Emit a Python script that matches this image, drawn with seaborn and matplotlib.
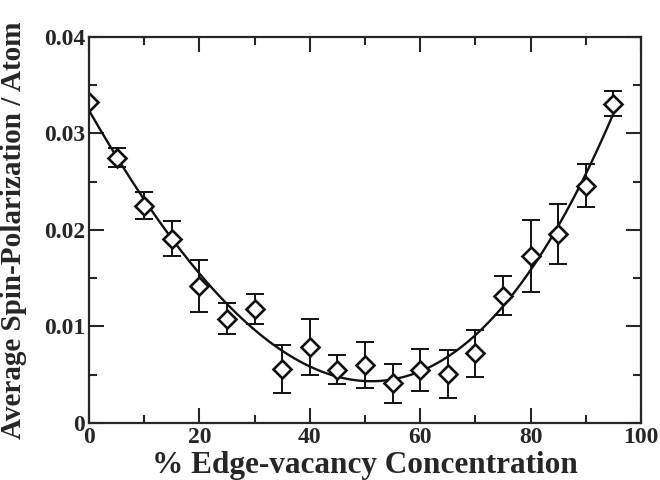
import numpy as np
import pandas as pd
import matplotlib
matplotlib.use('Agg')
import matplotlib.pyplot as plt
import seaborn as sns
from matplotlib.ticker import MultipleLocator

# Dữ liệu
conc = [0, 5, 10, 15, 20, 25, 30, 35, 40, 45, 50, 55, 60, 65, 70, 75, 80, 85, 90, 95]
spin = [0.0333, 0.0275, 0.0225, 0.0191, 0.0142, 0.0108, 0.0118, 0.0056, 0.0079, 0.0055,
        0.0060, 0.0041, 0.0055, 0.0051, 0.0072, 0.0132, 0.0173, 0.0196, 0.0246, 0.0331]
err = [0.0, 0.0010, 0.0014, 0.0018, 0.0027, 0.0016, 0.0016, 0.0025, 0.0029, 0.0015,
       0.0024, 0.0020, 0.0022, 0.0025, 0.0024, 0.0020, 0.0037, 0.0031, 0.0022, 0.0013]

df = pd.DataFrame({'conc': conc, 'spin': spin, 'err': err})

# Đường fit đa thức
coef = np.polyfit(df['conc'], df['spin'], 3)
xs = np.linspace(0, 95, 200)
fit_df = pd.DataFrame({'conc': xs, 'spin': np.polyval(coef, xs)})

sns.set_style('ticks')
plt.rcParams['font.family'] = ['Liberation Serif', 'DejaVu Serif']
plt.rcParams['font.weight'] = 'bold'

fig = plt.figure(figsize=(6.6, 4.8), dpi=100)
ax = fig.add_axes([0.135, 0.119, 0.836, 0.804])

sns.lineplot(data=fit_df, x='conc', y='spin', color='#111111', linewidth=1.7, ax=ax)
ax.errorbar(df['conc'], df['spin'], yerr=df['err'], fmt='none', ecolor='#111111',
            elinewidth=1.4, capsize=6.5, capthick=1.4)
ax.plot(df['conc'], df['spin'], linestyle='none', marker='D', markersize=9.5,
        markerfacecolor='white', markeredgecolor='#111111', markeredgewidth=1.9)

ax.set_xlim(0, 100)
ax.set_ylim(0, 0.04)
ax.xaxis.set_minor_locator(MultipleLocator(10))
ax.yaxis.set_minor_locator(MultipleLocator(0.005))
ax.set_xticks([0, 20, 40, 60, 80, 100])
ax.set_xticklabels(['0', '20', '40', '60', '80', '100'])
ax.set_yticks([0, 0.01, 0.02, 0.03, 0.04])
ax.set_yticklabels(['0', '0.01', '0.02', '0.03', '0.04'])
ax.tick_params(which='both', direction='in', top=True, right=True, width=1.5,
               labelsize=17, pad=3)
ax.tick_params(which='major', length=11)
ax.tick_params(which='minor', length=6)
for s in ax.spines.values():
    s.set_linewidth(1.6)

ax.set_xlabel('% Edge-vacancy Concentration', fontsize=22.5, fontweight='bold', labelpad=2)
ax.set_ylabel('Average Spin-Polarization / Atom', fontsize=21, fontweight='bold')
ax.yaxis.set_label_coords(-0.112, 0.5)

fig.savefig('out.png', dpi=100)
